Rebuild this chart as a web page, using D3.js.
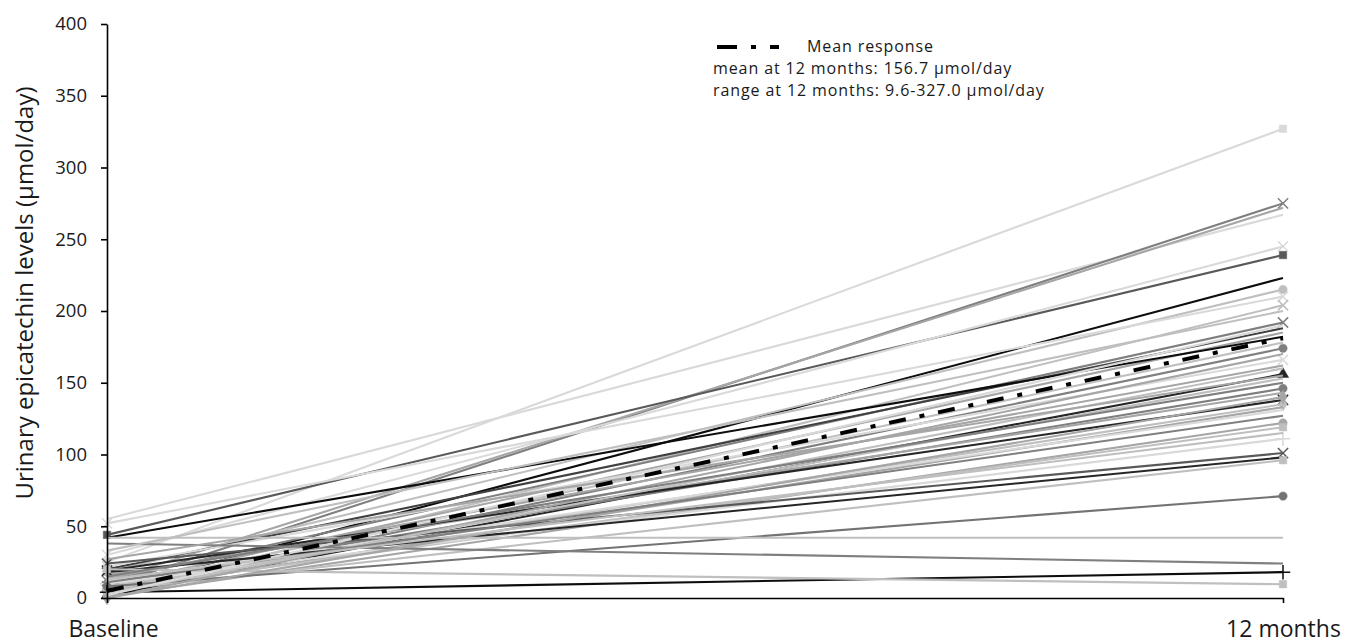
<!DOCTYPE html>
<html lang="en">
<head>
    <meta charset="UTF-8">
    <title>Urinary epicatechin levels</title>
    <script src="https://d3js.org/d3.v7.min.js"></script>
    <style>
        body {
            margin: 0;
            background-color: #fff;
            font-family: "Open Sans", Arial, sans-serif;
        }
        .axis text {
            font-family: "Open Sans", Arial, sans-serif;
            fill: #1a1a1a;
        }
        .axis path, .axis line {
            stroke: #000;
            stroke-width: 1.6px;
        }
        .legend text {
            font-size: 16px;
            letter-spacing: 0.9px;
            fill: #1a1a1a;
        }
    </style>
</head>
<body>
    <div id="chart"></div>

    <script>
        // time points on the x axis
        const timePoints = ['Baseline', '12 months'];

        // per subject values (µmol/day)
        const baselineValues = [25, 55, 8, 12, 44, 30, 5, 18, 52, 3, 12, 20, 9, 42, 7, 4, 22, 14, 2, 6,
                                10, 16, 19, 8, 4, 12, 1, 6, 10, 24, 18, 5, 8, 42, 38, 4, 20, 0, 3, 15,
                                0, 11, 2, 33, 27, 13];
        const month12Values = [327, 267, 275, 272, 239, 245, 223, 215, 210, 204, 192, 188, 185, 182, 178, 174, 166, 162, 156, 153,
                               146, 143, 138, 135, 133, 131, 122, 119, 111, 101, 98, 96, 71, 42, 24, 18, 9.6, 170, 160, 150,
                               140, 127, 190, 200, 155, 115];
        // marker symbol for each subject series
        const markerTypes = ['square', 'none', 'x', 'none', 'square', 'x', 'none', 'circle', 'x', 'x', 'x', 'none', 'none', 'none', 'none', 'circle', 'x', 'none', 'triangle', 'none',
                             'circle', 'none', 'x', 'diamond', 'none', 'none', 'circle', 'square', 'plus', 'x', 'none', 'square', 'circle', 'none', 'none', 'plus', 'square', 'none', 'none', 'none',
                             'diamond', 'none', 'none', 'none', 'none', 'none'];

        const meanValues = [5, 181];
        const yTicks = [0, 50, 100, 150, 200, 250, 300, 350, 400];
        const legendLines = ['Mean response', 'mean at 12 months: 156.7 \u00b5mol/day', 'range at 12 months: 9.6-327.0 \u00b5mol/day'];

        // grey shade of each subject line (style only)
        const lineGreys = ['#d9d9d9', '#d9d9d9', '#7f7f7f', '#a6a6a6', '#595959', '#d9d9d9', '#0d0d0d', '#bfbfbf', '#d9d9d9', '#bfbfbf',
                           '#7f7f7f', '#404040', '#a6a6a6', '#0d0d0d', '#bfbfbf', '#7f7f7f', '#d9d9d9', '#a6a6a6', '#262626', '#bfbfbf',
                           '#7f7f7f', '#a6a6a6', '#262626', '#bfbfbf', '#a6a6a6', '#d9d9d9', '#a6a6a6', '#bfbfbf', '#d9d9d9', '#595959',
                           '#262626', '#bfbfbf', '#737373', '#bfbfbf', '#7f7f7f', '#0d0d0d', '#bfbfbf', '#a6a6a6', '#bfbfbf', '#7f7f7f',
                           '#a6a6a6', '#7f7f7f', '#d9d9d9', '#bfbfbf', '#a6a6a6', '#bfbfbf'];

        const width = 1349, height = 643;
        const margin = {top: 24, right: 66, bottom: 45, left: 107};

        const subjects = baselineValues.map((b, i) => ({
            values: [b, month12Values[i]],
            marker: markerTypes[i],
            grey: lineGreys[i]
        }));

        const svg = d3.select('#chart').append('svg')
            .attr('width', width)
            .attr('height', height);

        const x = d3.scalePoint()
            .domain(timePoints)
            .range([margin.left, width - margin.right]);

        const y = d3.scaleLinear()
            .domain([0, 400])
            .range([height - margin.bottom, margin.top]);

        const line = d3.line()
            .x((d, i) => x(timePoints[i]))
            .y(d => y(d));

        // subject lines
        const series = svg.append('g').selectAll('g')
            .data(subjects)
            .enter()
            .append('g');

        series.append('path')
            .attr('d', d => line(d.values))
            .attr('fill', 'none')
            .attr('stroke', d => d.grey)
            .attr('stroke-width', 2.1);

        const symbolFor = {
            square: d3.symbolSquare,
            circle: d3.symbolCircle,
            triangle: d3.symbolTriangle,
            diamond: d3.symbolDiamond,
            x: d3.symbolTimes,
            plus: d3.symbolPlus
        };

        series.each(function(d) {
            if (d.marker === 'none') return;
            const g = d3.select(this);
            d.values.forEach((v, i) => {
                const isStroke = d.marker === 'x' || d.marker === 'plus';
                const sym = d3.symbol().type(symbolFor[d.marker]).size(isStroke ? 70 : 55);
                g.append('path')
                    .attr('transform', `translate(${x(timePoints[i])},${y(v)})`)
                    .attr('d', sym())
                    .attr('fill', isStroke ? 'none' : d.grey)
                    .attr('stroke', d.grey)
                    .attr('stroke-width', isStroke ? 1.5 : 0.5);
            });
        });

        // mean response line
        svg.append('path')
            .attr('d', line(meanValues))
            .attr('fill', 'none')
            .attr('stroke', '#000')
            .attr('stroke-width', 4)
            .attr('stroke-dasharray', '17,14,5,14');

        // axes
        svg.append('g')
            .attr('class', 'axis')
            .attr('transform', `translate(${margin.left},0)`)
            .call(d3.axisLeft(y).tickValues(yTicks).tickSize(6).tickSizeOuter(0).tickPadding(14))
            .selectAll('text')
            .style('font-size', '18.5px');

        svg.append('g')
            .attr('class', 'axis')
            .attr('transform', `translate(0,${y(0)})`)
            .call(d3.axisBottom(x).tickSize(5).tickSizeOuter(0).tickPadding(18))
            .selectAll('text')
            .style('font-size', '23px')
            .attr('dx', (d, i) => i === 0 ? 6 : 0);

        // y axis title
        svg.append('text')
            .attr('transform', `translate(33,${(y(0) + y(400)) / 2 - 18}) rotate(-90)`)
            .attr('text-anchor', 'middle')
            .style('font-size', '24px')
            .style('fill', '#1a1a1a')
            .text('Urinary epicatechin levels (\u00b5mol/day)');

        // legend
        const legend = svg.append('g').attr('class', 'legend');
        legend.append('line')
            .attr('x1', 717).attr('x2', 779)
            .attr('y1', 47).attr('y2', 47)
            .attr('stroke', '#000')
            .attr('stroke-width', 4)
            .attr('stroke-dasharray', '20,14,5,14');
        legend.selectAll('text.row')
            .data(legendLines)
            .enter()
            .append('text')
            .attr('class', 'row')
            .attr('x', (d, i) => i === 0 ? 807 : 713)
            .attr('y', (d, i) => 52 + i * 22)
            .text(d => d);
    </script>
</body>
</html>
